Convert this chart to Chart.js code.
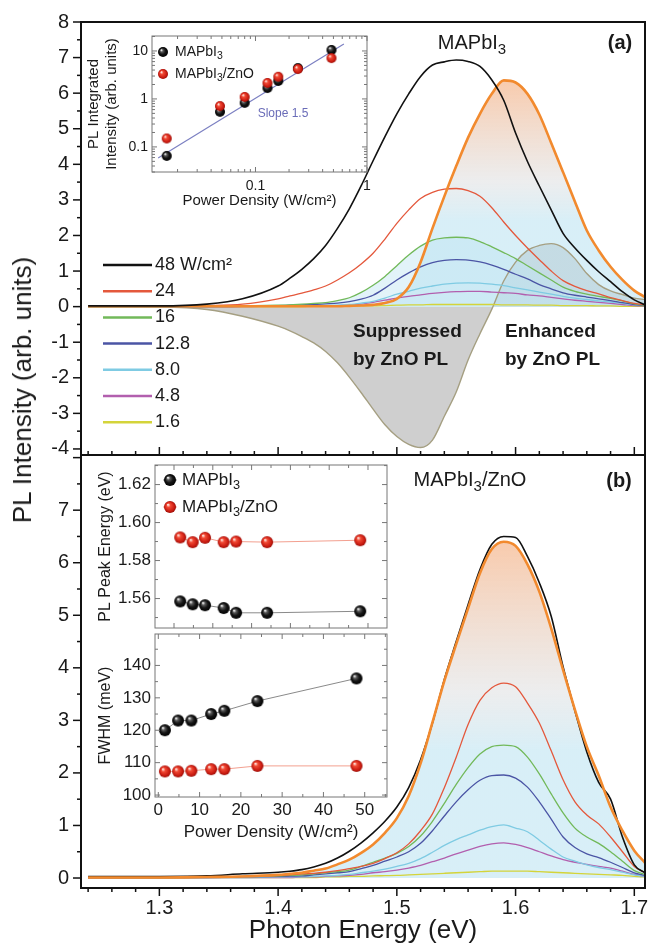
<!DOCTYPE html>
<html>
<head>
<meta charset="utf-8">
<script src="https://cdn.jsdelivr.net/npm/chart.js@4.4.1/dist/chart.umd.min.js"></script>
<style>
body { margin: 0; background: #fff; }
#wrap { position: relative; width: 649px; height: 946px; overflow: hidden; }
canvas { position: absolute; }
.t { position: absolute; font-family: 'Liberation Sans', Arial, Helvetica, sans-serif; white-space: nowrap; line-height: 1; color: #1a1a1a; }
.c { transform: translate(-50%, -50%); }
.b { font-weight: bold; }
.s { font-size: 0.75em; position: relative; top: 0.3em; }
</style>
</head>
<body>
<div id="wrap">
  <canvas id="mainA" width="649" height="470" style="left:0;top:0"></canvas>
  <canvas id="mainB" width="649" height="501" style="left:0;top:445px"></canvas>
  <canvas id="insetA" width="296" height="180" style="left:84px;top:30px"></canvas>
  <canvas id="insetB1" width="300" height="180" style="left:96px;top:455px"></canvas>
  <canvas id="insetB2" width="300" height="216" style="left:96px;top:627px"></canvas>

  <div class="t" style="left:22px;top:390px;font-size:26px;transform:translate(-50%,-50%) rotate(-90deg)">PL Intensity (arb. units)</div>
  <div class="t c" style="left:472px;top:42px;font-size:20px">MAPbI<span class="s">3</span></div>
  <div class="t c b" style="left:620px;top:42px;font-size:20px">(a)</div>
  <div class="t b" style="left:353px;top:317px;font-size:19px;line-height:28px">Suppressed<br>by ZnO PL</div>
  <div class="t b" style="left:505px;top:317px;font-size:19px;line-height:28px">Enhanced<br>by ZnO PL</div>
  <div class="t c" style="left:470px;top:479px;font-size:20px">MAPbI<span class="s">3</span>/ZnO</div>
  <div class="t c b" style="left:619px;top:480px;font-size:20px">(b)</div>
  <div class="t c" style="left:283px;top:113px;font-size:12px;color:#6a6cb8">Slope 1.5</div>
</div>

<script>
// photon energy grid (eV) shared by all spectra
const energy = [1.24, 1.30, 1.34, 1.37,
    1.40, 1.41, 1.42, 1.43, 1.44, 1.45, 1.46, 1.47, 1.48, 1.49,
    1.50, 1.51, 1.52, 1.53, 1.54, 1.55, 1.56, 1.57, 1.58, 1.59, 1.60,
    1.61, 1.62, 1.63, 1.64, 1.65, 1.66, 1.67, 1.68, 1.69, 1.70, 1.709];

// (a) MAPbI3 spectra
const a48 = [0.02, 0.02, 0.07, 0.22, 0.58, 0.8, 1.05, 1.35, 1.72, 2.2, 2.75, 3.4, 4.1, 4.78,
    5.42, 5.98, 6.47, 6.79, 6.88, 6.93, 6.89, 6.75, 6.37, 5.8, 4.88, 4.08, 3.39, 2.72, 2.06, 1.65, 1.3, 0.98, 0.7, 0.42, 0.19, 0.05];
const a24 = [0.01, 0.01, 0.03, 0.07, 0.22, 0.3, 0.38, 0.47, 0.58, 0.75, 0.95, 1.2, 1.5, 1.9,
    2.34, 2.72, 3.04, 3.21, 3.3, 3.32, 3.26, 3.1, 2.78, 2.38, 2.0, 1.65, 1.32, 1.0, 0.73, 0.57, 0.45, 0.36, 0.25, 0.17, 0.09, 0.05];
const a16 = [0, 0, 0.01, 0.02, 0.04, 0.05, 0.07, 0.09, 0.11, 0.17, 0.25, 0.4, 0.6, 0.85,
    1.15, 1.45, 1.7, 1.87, 1.93, 1.95, 1.93, 1.83, 1.68, 1.52, 1.35, 1.15, 0.95, 0.75, 0.55, 0.43, 0.35, 0.29, 0.23, 0.16, 0.08, 0.04];
const a12 = [0, 0, 0, 0.01, 0.03, 0.04, 0.05, 0.06, 0.08, 0.1, 0.14, 0.21, 0.32, 0.52,
    0.75, 0.95, 1.12, 1.24, 1.3, 1.32, 1.31, 1.26, 1.17, 1.05, 0.91, 0.78, 0.62, 0.5, 0.39, 0.32, 0.27, 0.22, 0.17, 0.11, 0.06, 0.03];
const a8 = [0, 0, 0, 0.01, 0.01, 0.01, 0.02, 0.02, 0.03, 0.04, 0.06, 0.1, 0.15, 0.24,
    0.35, 0.43, 0.52, 0.58, 0.63, 0.66, 0.67, 0.66, 0.63, 0.59, 0.53, 0.47, 0.41, 0.35, 0.29, 0.24, 0.2, 0.16, 0.13, 0.09, 0.05, 0.03];
const a4 = [0, 0, 0, 0, 0.01, 0.01, 0.01, 0.02, 0.02, 0.03, 0.04, 0.07, 0.12, 0.18,
    0.24, 0.29, 0.33, 0.37, 0.4, 0.42, 0.43, 0.43, 0.41, 0.39, 0.37, 0.33, 0.3, 0.26, 0.22, 0.18, 0.15, 0.12, 0.09, 0.06, 0.03, 0.02];
const a1 = [0, 0, 0, 0, 0, 0, 0, 0.01, 0.01, 0.01, 0.01, 0.02, 0.02, 0.03,
    0.04, 0.05, 0.05, 0.06, 0.06, 0.06, 0.06, 0.06, 0.06, 0.05, 0.05, 0.05, 0.04, 0.04, 0.03, 0.03, 0.03, 0.02, 0.02, 0.01, 0.01, 0.01];
const aZnO = [0.01, 0.01, 0.01, 0.01, 0.01, 0.01, 0.01, 0.01, 0.01, 0.01, 0.02, 0.03, 0.05, 0.1,
    0.22, 0.55, 1.25, 2.2, 3.1, 3.95, 4.75, 5.42, 5.98, 6.36, 6.3, 5.98, 5.4, 4.6, 3.78, 2.95, 2.14, 1.58, 1.12, 0.75, 0.45, 0.27];
const aDiff = [0, -0.01, -0.08, -0.27, -0.55, -0.68, -0.84, -1.02, -1.26, -1.58, -1.98, -2.42, -2.88, -3.32,
    -3.65, -3.87, -3.96, -3.75, -3.08, -2.4, -1.5, -0.76, -0.07, 0.72, 1.25, 1.58, 1.72, 1.77, 1.66, 1.35, 0.93, 0.62, 0.44, 0.34, 0.24, 0.2];

// (b) MAPbI3/ZnO spectra
const b48 = [0.03, 0.03, 0.04, 0.08, 0.11, 0.13, 0.16, 0.21, 0.28, 0.38, 0.51, 0.67, 0.86, 1.08,
    1.35, 1.72, 2.25, 2.95, 3.78, 4.5, 5.2, 5.87, 6.35, 6.5, 6.48, 6.12, 5.62, 4.98, 4.02, 3.18, 2.4, 1.82, 1.5, 0.78, 0.25, 0.1];
const bZnO = [0.01, 0.01, 0.02, 0.03, 0.06, 0.08, 0.1, 0.14, 0.18, 0.26, 0.35, 0.48, 0.64, 0.86,
    1.14, 1.56, 2.18, 2.96, 3.75, 4.45, 5.13, 5.8, 6.26, 6.4, 6.32, 5.97, 5.45, 4.75, 3.96, 3.2, 2.5, 1.95, 1.35, 0.9, 0.52, 0.29];
const b24 = [0.01, 0.01, 0.02, 0.03, 0.05, 0.06, 0.08, 0.09, 0.11, 0.14, 0.18, 0.22, 0.28, 0.37,
    0.48, 0.65, 0.9, 1.22, 1.72, 2.3, 2.92, 3.38, 3.62, 3.71, 3.64, 3.33, 2.95, 2.42, 1.87, 1.45, 1.2, 1.03, 0.78, 0.5, 0.22, 0.1];
const b16 = [0.01, 0.01, 0.02, 0.03, 0.04, 0.05, 0.06, 0.08, 0.1, 0.12, 0.15, 0.22, 0.3, 0.38,
    0.47, 0.6, 0.8, 1.08, 1.42, 1.78, 2.1, 2.36, 2.5, 2.53, 2.5, 2.3, 1.98, 1.6, 1.24, 0.95, 0.78, 0.66, 0.5, 0.32, 0.14, 0.07];
const b12 = [0.01, 0.01, 0.01, 0.02, 0.03, 0.035, 0.04, 0.06, 0.08, 0.1, 0.12, 0.18, 0.24, 0.32,
    0.4, 0.5, 0.66, 0.9, 1.18, 1.45, 1.68, 1.86, 1.95, 1.96, 1.9, 1.73, 1.45, 1.12, 0.78, 0.58, 0.46, 0.39, 0.3, 0.2, 0.1, 0.05];
const b8 = [0.01, 0.01, 0.01, 0.01, 0.02, 0.02, 0.02, 0.03, 0.04, 0.05, 0.07, 0.1, 0.13, 0.17,
    0.22, 0.28, 0.37, 0.49, 0.62, 0.73, 0.82, 0.91, 0.98, 1.01, 0.95, 0.88, 0.72, 0.55, 0.4, 0.32, 0.25, 0.2, 0.16, 0.11, 0.06, 0.03];
const b4 = [0, 0.01, 0.01, 0.01, 0.01, 0.01, 0.02, 0.02, 0.03, 0.04, 0.05, 0.07, 0.1, 0.12,
    0.15, 0.19, 0.24, 0.31, 0.38, 0.46, 0.53, 0.6, 0.65, 0.67, 0.64, 0.58, 0.5, 0.42, 0.35, 0.3, 0.26, 0.22, 0.19, 0.13, 0.07, 0.03];
const b1 = [0, 0, 0.01, 0.01, 0.01, 0.01, 0.01, 0.01, 0.02, 0.02, 0.03, 0.03, 0.04, 0.045,
    0.05, 0.06, 0.07, 0.08, 0.09, 0.1, 0.11, 0.12, 0.13, 0.13, 0.13, 0.13, 0.12, 0.11, 0.1, 0.09, 0.08, 0.07, 0.06, 0.05, 0.03, 0.02];

// inset (a): integrated PL vs power density, log-log
const powerLow = [0.016, 0.048, 0.08, 0.128, 0.16, 0.24, 0.48];
const intPero = [0.065, 0.54, 0.83, 1.69, 2.37, 4.4, 10.5];
const intZnO = [0.15, 0.71, 1.1, 2.15, 2.9, 4.2, 7.1];
const slopeX = [0.0134, 0.62];
const slopeY = [0.059, 13.9];

// inset (b): peak energy and FWHM vs power density
const power = [1.6, 4.8, 8.0, 12.8, 16, 24, 48];
const peakPero = [1.5585, 1.557, 1.5565, 1.555, 1.5525, 1.5525, 1.5533];
const peakZnO = [1.5922, 1.5897, 1.592, 1.5897, 1.590, 1.5897, 1.5907];
const fwhmPero = [120, 123, 123, 125, 126, 129, 136];
const fwhmZnO = [107.3, 107.3, 107.5, 108, 108, 109, 109];

const FONT = "'Liberation Sans', Arial, Helvetica, sans-serif";
Chart.defaults.font.family = FONT;
Chart.defaults.color = '#1a1a1a';

const C = {
    black: '#111111',
    red: '#e4583c',
    green: '#72b95a',
    blue: '#4b55a5',
    cyan: '#7fcbe3',
    purple: '#b25fae',
    yellow: '#d4d43a',
    orange: '#f28a2e',
    olive: '#a59f82'
};

function sphere(r, stops) {
    const c = document.createElement('canvas');
    const s = Math.ceil(r * 2 + 2);
    c.width = s;
    c.height = s;
    const g = c.getContext('2d');
    const grad = g.createRadialGradient(s / 2 - r * 0.35, s / 2 - r * 0.4, r * 0.05, s / 2, s / 2, r);
    stops.forEach(([p, col]) => grad.addColorStop(p, col));
    g.fillStyle = grad;
    g.beginPath();
    g.arc(s / 2, s / 2, r, 0, Math.PI * 2);
    g.fill();
    return c;
}
const blackStops = [[0, '#ffffff'], [0.25, '#5a5a5a'], [0.6, '#151515'], [1, '#000000']];
const redStops = [[0, '#fff2ec'], [0.3, '#f24a35'], [0.8, '#c81a10'], [1, '#980c05']];
const blackBall5 = sphere(5, blackStops), redBall5 = sphere(5, redStops);
const blackBall6 = sphere(6, blackStops), redBall6 = sphere(6, redStops);

function drawRich(ctx, text, x, y, size, weight) {
    let cx = x;
    text.split(/(₃)/).forEach(p => {
        if (!p) return;
        const sub = p === '₃';
        const t = sub ? '3' : p;
        ctx.font = `${weight || ''} ${sub ? size * 0.75 : size}px ${FONT}`;
        ctx.fillText(t, cx, y + (sub ? size * 0.3 : 0));
        cx += ctx.measureText(t).width;
    });
}

function tickValues(scale, m) {
    const out = [];
    const lo = scale.min, hi = scale.max;
    if (scale.type === 'logarithmic') {
        for (let e = Math.floor(Math.log10(lo)); e <= Math.ceil(Math.log10(hi)); e++) {
            for (let k = 1; k < 10; k++) {
                const v = k * Math.pow(10, e);
                if (v >= lo * 0.999999 && v <= hi * 1.000001) out.push({ v, major: k === 1 });
            }
        }
    } else {
        const first = Math.ceil(lo / m.minor - 1e-6), last = Math.floor(hi / m.minor + 1e-6);
        for (let i = first; i <= last; i++) {
            const v = i * m.minor;
            const r = v / m.major;
            out.push({ v, major: Math.abs(r - Math.round(r)) < 1e-6 });
        }
    }
    return out;
}

// frame round the plot area plus major/minor tick marks
const frameTicks = {
    id: 'frameTicks',
    beforeDraw(chart, args, o) {
        if (!o.fill) return;
        const a = chart.chartArea, ctx = chart.ctx;
        ctx.save();
        ctx.fillStyle = o.fill;
        ctx.fillRect(a.left, a.top, a.right - a.left, a.bottom - a.top);
        ctx.restore();
    },
    afterDraw(chart, args, o) {
        const a = chart.chartArea, ctx = chart.ctx;
        ctx.save();
        ctx.strokeStyle = o.color;
        ctx.lineWidth = o.tickWidth;
        (o.marks || []).forEach(m => {
            const scale = chart.scales[m.axis];
            const s = m.dir === 'in' ? 1 : -1;
            tickValues(scale, m).forEach(t => {
                const len = (t.major ? m.len : m.minorLen) * s;
                const p = scale.getPixelForValue(t.v);
                ctx.beginPath();
                if (m.side === 'bottom') { ctx.moveTo(p, a.bottom); ctx.lineTo(p, a.bottom - len); }
                if (m.side === 'top') { ctx.moveTo(p, a.top); ctx.lineTo(p, a.top + len); }
                if (m.side === 'left') { ctx.moveTo(a.left, p); ctx.lineTo(a.left + len, p); }
                if (m.side === 'right') { ctx.moveTo(a.right, p); ctx.lineTo(a.right - len, p); }
                ctx.stroke();
            });
        });
        ctx.lineWidth = o.lineWidth;
        ctx.strokeRect(a.left, a.top, a.right - a.left, a.bottom - a.top);
        ctx.restore();
    }
};

// legend keys drawn at fixed spots
const keys = {
    id: 'keys',
    afterDraw(chart, args, o) {
        const ctx = chart.ctx;
        const list = chart.data.datasets.filter(d => d.legendRow !== undefined)
            .sort((p, q) => p.legendRow - q.legendRow);
        ctx.save();
        ctx.textBaseline = 'middle';
        list.forEach(ds => {
            const y = o.y + ds.legendRow * o.dy;
            if (o.lineHalf) {
                ctx.strokeStyle = ds.borderColor;
                ctx.lineWidth = o.lineWidth;
                ctx.beginPath();
                ctx.moveTo(o.x - o.lineHalf, y);
                ctx.lineTo(o.x + o.lineHalf, y);
                ctx.stroke();
            }
            if (o.marker) {
                const img = ds.pointStyle;
                ctx.drawImage(img, o.x - img.width / 2, y - img.height / 2);
            }
            ctx.fillStyle = '#1a1a1a';
            drawRich(ctx, ds.label, o.textX, y, o.size);
        });
        ctx.restore();
    }
};

const fitX = h => s => { s.height = h; s.paddingLeft = 0; s.paddingRight = 0; };
const fitY = w => s => { s.width = w; s.paddingTop = 0; s.paddingBottom = 0; };
const noGrid = { display: false, drawTicks: false };
const decadeLabel = v => {
    const l = Math.log10(v);
    return Math.abs(l - Math.round(l)) < 1e-6 ? String(Math.pow(10, Math.round(l))) : '';
};

function spec(vals, label, color, width, extra) {
    return Object.assign({
        label: label,
        data: energy.map((x, i) => ({ x: x, y: vals[i] })),
        borderColor: color,
        borderWidth: width,
        pointRadius: 0,
        fill: false,
        cubicInterpolationMode: 'monotone'
    }, extra || {});
}

function warmFill(peak) {
    return (c) => {
        const ch = c.chart;
        if (!ch.chartArea) return 'rgba(0,0,0,0)';
        const ys = ch.scales.y;
        const g = ch.ctx.createLinearGradient(0, ys.getPixelForValue(peak), 0, ys.getPixelForValue(0));
        g.addColorStop(0, 'rgba(244,168,118,0.6)');
        g.addColorStop(0.45, 'rgba(218,220,222,0.5)');
        g.addColorStop(0.62, 'rgba(190,228,242,0.6)');
        g.addColorStop(1, 'rgba(190,228,242,0.6)');
        return g;
    };
}

function baseOptions(padding) {
    return {
        responsive: false,
        animation: false,
        devicePixelRatio: 1,
        events: [],
        layout: { padding: padding },
        plugins: {
            legend: { display: false },
            tooltip: { enabled: false },
            filler: { propagate: false, drawTime: 'beforeDatasetsDraw' }
        }
    };
}

// ---- panel (a)
const optA = baseOptions({ left: 0, right: 4, top: 22, bottom: 0 });
optA.scales = {
    x: { type: 'linear', min: 1.234, max: 1.709, grid: noGrid, border: { display: false },
        ticks: { display: false }, afterFit: fitX(15) },
    y: { min: -4.17, max: 8, grid: noGrid, border: { display: false },
        ticks: { stepSize: 1, includeBounds: false, autoSkip: false, padding: 12, font: { size: 20 } },
        afterFit: fitY(81) }
};
optA.plugins.frameTicks = {
    color: '#111', lineWidth: 2, tickWidth: 1.5,
    marks: [
        { axis: 'y', side: 'left', dir: 'out', major: 1, minor: 0.5, len: 8, minorLen: 4 },
        { axis: 'x', side: 'bottom', dir: 'in', major: 0.1, minor: 0.02, len: 8, minorLen: 4 }
    ]
};
optA.plugins.keys = { x: 127.5, lineHalf: 24.5, lineWidth: 2.5, y: 265, dy: 26.2, textX: 155, size: 18 };

new Chart(document.getElementById('mainA'), {
    type: 'line',
    data: {
        datasets: [
            spec(a48, '48 W/cm²', C.black, 1.6, { order: 0, legendRow: 0 }),
            spec(aZnO, 'MAPbI₃/ZnO', C.orange, 2.6, { order: 1, fill: 'origin', backgroundColor: warmFill(6.36) }),
            spec(a24, '24', C.red, 1.3, { order: 2, legendRow: 1 }),
            spec(a16, '16', C.green, 1.3, { order: 3, legendRow: 2, fill: 'origin', backgroundColor: 'rgba(190,228,242,0.45)' }),
            spec(a12, '12.8', C.blue, 1.3, { order: 4, legendRow: 3 }),
            spec(a8, '8.0', C.cyan, 1.3, { order: 5, legendRow: 4 }),
            spec(a4, '4.8', C.purple, 1.3, { order: 6, legendRow: 5 }),
            spec(a1, '1.6', C.yellow, 1.3, { order: 7, legendRow: 6 }),
            spec(aDiff, 'Difference', C.olive, 1.4, { order: 8, fill: 'origin', backgroundColor: 'rgba(140,140,140,0.42)' })
        ]
    },
    options: optA,
    plugins: [frameTicks, keys]
});

// ---- panel (b)
const optB = baseOptions({ left: 0, right: 4, top: 10, bottom: 0 });
optB.scales = {
    x: { type: 'linear', min: 1.234, max: 1.709, grid: noGrid, border: { display: false },
        ticks: { stepSize: 0.1, includeBounds: false, autoSkip: false, maxRotation: 0, padding: 8,
            font: { size: 20 }, callback: v => v.toFixed(1) },
        title: { display: true, text: 'Photon Energy (eV)', font: { size: 26 }, padding: 0 },
        afterFit: fitX(58) },
    y: { min: -0.19, max: 8.05, grid: noGrid, border: { display: false },
        ticks: { stepSize: 1, includeBounds: false, autoSkip: false, padding: 12, font: { size: 20 },
            callback: v => (v <= 7 ? String(v) : '') },
        afterFit: fitY(81) }
};
optB.plugins.frameTicks = {
    color: '#111', lineWidth: 2, tickWidth: 1.5,
    marks: [
        { axis: 'y', side: 'left', dir: 'out', major: 1, minor: 0.5, len: 8, minorLen: 4 },
        { axis: 'x', side: 'bottom', dir: 'out', major: 0.1, minor: 0.02, len: 8, minorLen: 4 }
    ]
};

new Chart(document.getElementById('mainB'), {
    type: 'line',
    data: {
        datasets: [
            spec(bZnO, 'MAPbI₃/ZnO', C.orange, 2.6, { order: 0, fill: 'origin', backgroundColor: warmFill(6.4) }),
            spec(b48, '48 W/cm²', C.black, 1.6, { order: 1 }),
            spec(b24, '24', C.red, 1.3, { order: 2 }),
            spec(b16, '16', C.green, 1.3, { order: 3 }),
            spec(b12, '12.8', C.blue, 1.3, { order: 4 }),
            spec(b8, '8.0', C.cyan, 1.3, { order: 5 }),
            spec(b4, '4.8', C.purple, 1.3, { order: 6 }),
            spec(b1, '1.6', C.yellow, 1.3, { order: 7 })
        ]
    },
    options: optB,
    plugins: [frameTicks]
});

// ---- inset (a)
const insetMarks = (xMajor, xMinor, yMajor, yMinor) => [
    { axis: 'x', side: 'bottom', dir: 'in', major: xMajor, minor: xMinor, len: 5, minorLen: 3 },
    { axis: 'x', side: 'top', dir: 'in', major: xMajor, minor: xMinor, len: 5, minorLen: 3 },
    { axis: 'y', side: 'left', dir: 'in', major: yMajor, minor: yMinor, len: 5, minorLen: 3 },
    { axis: 'y', side: 'right', dir: 'in', major: yMajor, minor: yMinor, len: 5, minorLen: 3 }
];

const optIA = baseOptions({ left: 0, right: 13, top: 6, bottom: 0 });
optIA.scales = {
    x: { type: 'logarithmic', min: 0.0118, max: 1, grid: noGrid, border: { display: false },
        ticks: { autoSkip: false, maxRotation: 0, padding: 6, font: { size: 14 }, callback: decadeLabel },
        title: { display: true, text: 'Power Density (W/cm²)', font: { size: 15 }, padding: 0 },
        afterFit: fitX(38) },
    y: { type: 'logarithmic', min: 0.03, max: 20.5, grid: noGrid, border: { display: false },
        ticks: { autoSkip: false, padding: 4, font: { size: 14 }, callback: decadeLabel },
        title: { display: true, text: ['PL Integrated', 'Intensity (arb. units)'], font: { size: 15, lineHeight: 1.25 }, padding: 0 },
        afterFit: fitY(68) }
};
optIA.plugins.frameTicks = { fill: '#fff', color: '#777', lineWidth: 1, tickWidth: 1, marks: insetMarks() };
optIA.plugins.keys = { x: 79, y: 22, dy: 22, textX: 91, size: 14, marker: true };

new Chart(document.getElementById('insetA'), {
    type: 'scatter',
    data: {
        datasets: [
            { label: 'MAPbI₃/ZnO', data: powerLow.map((x, i) => ({ x: x, y: intZnO[i] })),
                pointStyle: redBall5, pointRadius: 5, order: 0, legendRow: 1 },
            { label: 'MAPbI₃', data: powerLow.map((x, i) => ({ x: x, y: intPero[i] })),
                pointStyle: blackBall5, pointRadius: 5, order: 1, legendRow: 0 },
            { type: 'line', label: 'Slope 1.5', data: slopeX.map((x, i) => ({ x: x, y: slopeY[i] })),
                borderColor: '#7c80c2', borderWidth: 1.2, pointRadius: 0, order: 2 }
        ]
    },
    options: optIA,
    plugins: [frameTicks, keys]
});

// ---- inset (b), peak energy
const optB1 = baseOptions({ left: 0, right: 9, top: 10, bottom: 0 });
optB1.scales = {
    x: { type: 'linear', min: -4.9, max: 54.9, grid: noGrid, border: { display: false },
        ticks: { display: false }, afterFit: fitX(4) },
    y: { min: 1.5445, max: 1.6303, grid: noGrid, border: { display: false },
        ticks: { stepSize: 0.02, includeBounds: false, autoSkip: false, padding: 4, font: { size: 17 },
            callback: v => v.toFixed(2) },
        title: { display: true, text: 'PL Peak Energy (eV)', font: { size: 16 }, padding: 0 },
        afterFit: fitY(59) }
};
optB1.plugins.frameTicks = { fill: '#fff', color: '#777', lineWidth: 1, tickWidth: 1, marks: insetMarks(10, 5, 0.02, 0.01) };
optB1.plugins.keys = { x: 74, y: 25, dy: 27, textX: 86, size: 17, marker: true, lineHalf: 7, lineWidth: 1 };

new Chart(document.getElementById('insetB1'), {
    type: 'line',
    data: {
        datasets: [
            { label: 'MAPbI₃/ZnO', data: power.map((x, i) => ({ x: x, y: peakZnO[i] })), borderColor: '#f3a090',
                borderWidth: 1, pointStyle: redBall6, pointRadius: 6, order: 0, legendRow: 1 },
            { label: 'MAPbI₃', data: power.map((x, i) => ({ x: x, y: peakPero[i] })), borderColor: '#8a8a8a',
                borderWidth: 1, pointStyle: blackBall6, pointRadius: 6, order: 1, legendRow: 0 }
        ]
    },
    options: optB1,
    plugins: [frameTicks, keys]
});

// ---- inset (b), FWHM
const optB2 = baseOptions({ left: 0, right: 9, top: 4, bottom: 0 });
optB2.scales = {
    x: { type: 'linear', min: -0.8, max: 55.4, grid: noGrid, border: { display: false },
        ticks: { stepSize: 10, includeBounds: false, autoSkip: false, maxRotation: 0, padding: 3, font: { size: 17 } },
        title: { display: true, text: 'Power Density (W/cm²)', font: { size: 17 }, padding: 0 },
        afterFit: fitX(46) },
    y: { min: 99.4, max: 149.7, grid: noGrid, border: { display: false },
        ticks: { stepSize: 10, includeBounds: false, autoSkip: false, padding: 4, font: { size: 17 } },
        title: { display: true, text: 'FWHM (meV)', font: { size: 16 }, padding: 0 },
        afterFit: fitY(59) }
};
optB2.plugins.frameTicks = { fill: '#fff', color: '#777', lineWidth: 1, tickWidth: 1, marks: insetMarks(10, 5, 10, 5) };

new Chart(document.getElementById('insetB2'), {
    type: 'line',
    data: {
        datasets: [
            { label: 'MAPbI₃/ZnO', data: power.map((x, i) => ({ x: x, y: fwhmZnO[i] })), borderColor: '#f3a090',
                borderWidth: 1, pointStyle: redBall6, pointRadius: 6, order: 0 },
            { label: 'MAPbI₃', data: power.map((x, i) => ({ x: x, y: fwhmPero[i] })), borderColor: '#8a8a8a',
                borderWidth: 1, pointStyle: blackBall6, pointRadius: 6, order: 1 }
        ]
    },
    options: optB2,
    plugins: [frameTicks]
});
</script>
</body>
</html>
